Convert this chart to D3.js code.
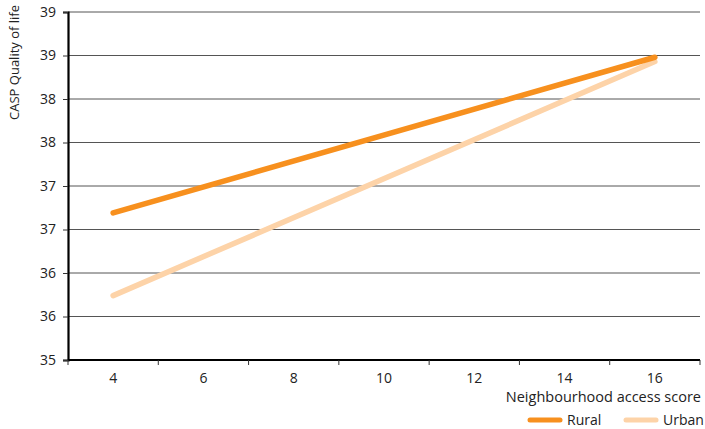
<!DOCTYPE html>
<html><head><meta charset="utf-8">
<script src="https://cdn.jsdelivr.net/npm/d3@7"></script>
<style>body{margin:0;background:#fff}text{font-family:"Open Sans",sans-serif;fill:#222}</style>
</head><body><svg id="c" width="705" height="429"></svg>
<script>
const categories = [4, 6, 8, 10, 12, 14, 16];
const seriesNames = ["Rural", "Urban"];
const ruralX = [4, 16];
const ruralValues = [36.69, 38.48];
const urbanX = [4, 16];
const urbanValues = [35.74, 38.43];
const yTicks = [35, 35.5, 36, 36.5, 37, 37.5, 38, 38.5, 39];
const colors = ["#F7901E", "#FDD3A8"];

(function(){
const svg = d3.select("#c");
const mL = 68, mR = 700, mT = 12, mB = 360;
const x = d3.scaleBand().domain(categories).range([mL, mR]).padding(0);
const y = d3.scaleLinear().domain([35, 39]).range([mB, mT]);

svg.append("g").selectAll("line").data(yTicks.slice(1)).join("line")
  .attr("x1", mL).attr("x2", mR).attr("y1", d => y(d)).attr("y2", d => y(d))
  .attr("stroke", "#555").attr("stroke-width", 1);

const ya = svg.append("g").attr("transform", `translate(${mL},0)`)
  .call(d3.axisLeft(y).tickValues(yTicks).tickFormat(d => d3.format(".0f")(Math.round(d))).tickSize(5).tickPadding(7));
ya.select(".domain").attr("stroke", "#000").attr("stroke-width", 2.2);
ya.selectAll(".tick line").attr("stroke", "#333");
ya.selectAll("text").style("font-size", "14px").attr("fill", "#222");

const xa = svg.append("g").attr("transform", `translate(0,${mB})`)
  .call(d3.axisBottom(x).tickSize(0).tickPadding(13));
xa.select(".domain").attr("stroke", "#000").attr("stroke-width", 2.2).attr("d", `M${mL},0H${mR}`);
xa.selectAll("text").style("font-size", "14px").attr("fill", "#222");
const bounds = categories.map(c => x(c)).concat([mR]);
xa.append("g").selectAll("line").data(bounds).join("line")
  .attr("x1", d => d).attr("x2", d => d).attr("y1", 0).attr("y2", 5)
  .attr("stroke", "#333");

const cx = v => x(v) + x.bandwidth() / 2;
const line = d3.line().x(d => cx(d[0])).y(d => y(d[1]));
svg.append("path").datum(d3.zip(urbanX, urbanValues)).attr("d", line).attr("fill", "none")
  .attr("stroke", colors[1]).attr("stroke-width", 5.5).attr("stroke-linecap", "round");
svg.append("path").datum(d3.zip(ruralX, ruralValues)).attr("d", line).attr("fill", "none")
  .attr("stroke", colors[0]).attr("stroke-width", 5.5).attr("stroke-linecap", "round");

svg.append("text").attr("transform", "translate(19,5) rotate(-90)")
  .attr("text-anchor", "end").style("font-size", "13px").text("CASP Quality of life");
svg.append("text").attr("x", 701).attr("y", 402).attr("text-anchor", "end")
  .style("font-size", "14.5px").text("Neighbourhood access score");

const leg = [{n: seriesNames[0], c: colors[0], x: 530}, {n: seriesNames[1], c: colors[1], x: 626}];
leg.forEach(l => {
  svg.append("line").attr("x1", l.x).attr("x2", l.x + 30).attr("y1", 420).attr("y2", 420)
    .attr("stroke", l.c).attr("stroke-width", 5).attr("stroke-linecap", "round");
  svg.append("text").attr("x", l.x + 37).attr("y", 425).style("font-size", "14px").text(l.n);
});
})();
</script></body></html>
